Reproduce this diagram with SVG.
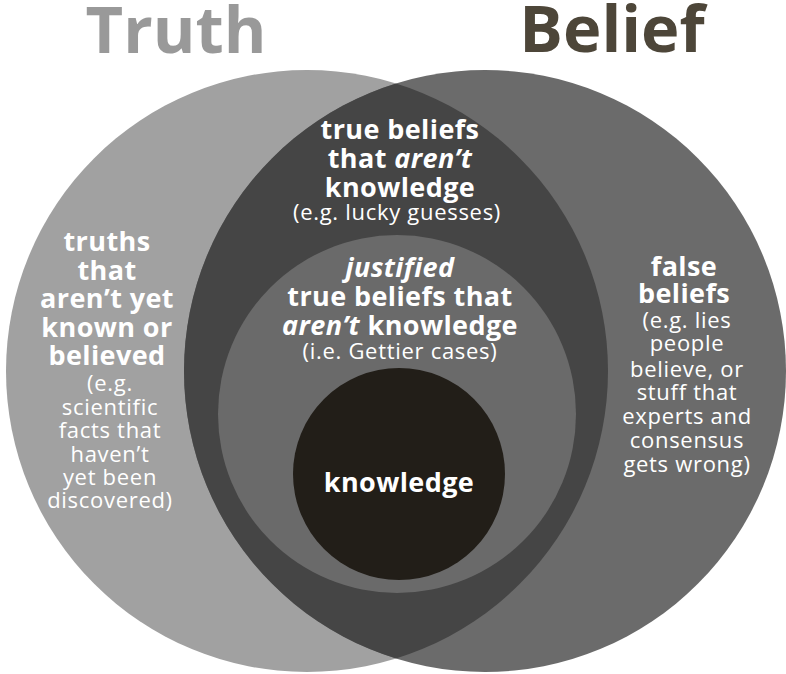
<svg xmlns="http://www.w3.org/2000/svg" width="786" height="674" viewBox="0 0 786 674">
<defs>
<clipPath id="clipTruth"><circle cx="307" cy="371" r="301"/></clipPath>
</defs>
<style>
text{font-family:"Open Sans","Liberation Sans",sans-serif;fill:#ffffff;text-anchor:middle}
.b{font-weight:700;font-size:27px;letter-spacing:0.4px}
.r{font-weight:400;font-size:22px;letter-spacing:0.7px}
.i{font-style:italic}
.title{font-weight:700;font-size:65px}
</style>
<rect width="786" height="674" fill="#ffffff"/>
<g id="truth">
<circle cx="307" cy="371" r="301" fill="#a1a1a1"/>
<text class="title" x="176" y="53" style="fill:#999999">Truth</text>
</g>
<g id="belief">
<circle cx="485" cy="371" r="301" fill="#6b6b6b"/>
<text class="title" x="612" y="52" style="fill:#4d4639">Belief</text>
</g>
<g id="true-beliefs">
<circle cx="485" cy="371" r="301" fill="#454545" clip-path="url(#clipTruth)"/>
</g>
<g id="justified">
<circle cx="397" cy="414" r="179" fill="#6a6a6a"/>
</g>
<g id="knowledge">
<circle cx="399" cy="474" r="106" fill="#221e18"/>
<text class="b" x="399" y="492">knowledge</text>
</g>
<g id="labels">
<text class="b" x="400" y="139">true beliefs</text>
<text class="b" x="400" y="168">that <tspan class="i">aren’t</tspan></text>
<text class="b" x="400" y="197">knowledge</text>
<text class="r" x="397" y="220">(e.g. lucky guesses)</text>

<text class="b" x="400" y="277"><tspan class="i">justified</tspan></text>
<text class="b" x="400" y="306">true beliefs that</text>
<text class="b" x="400" y="335"><tspan class="i">aren’t</tspan> knowledge</text>
<text class="r" x="400" y="359">(i.e. Gettier cases)</text>

<text class="b" x="107" y="251">truths</text>
<text class="b" x="107" y="280">that</text>
<text class="b" x="107" y="308">aren’t yet</text>
<text class="b" x="107" y="337">known or</text>
<text class="b" x="107" y="365">believed</text>
<text class="r" x="110" y="391">(e.g.</text>
<text class="r" x="110" y="415">scientific</text>
<text class="r" x="110" y="438">facts that</text>
<text class="r" x="110" y="462">haven’t</text>
<text class="r" x="110" y="485">yet been</text>
<text class="r" x="110" y="508">discovered)</text>

<text class="b" x="684" y="276">false</text>
<text class="b" x="684" y="303">beliefs</text>
<text class="r" x="687" y="328">(e.g. lies</text>
<text class="r" x="687" y="351">people</text>
<text class="r" x="687" y="377">believe, or</text>
<text class="r" x="687" y="400">stuff that</text>
<text class="r" x="687" y="424">experts and</text>
<text class="r" x="687" y="448">consensus</text>
<text class="r" x="687" y="472">gets wrong)</text>
</g>
</svg>
